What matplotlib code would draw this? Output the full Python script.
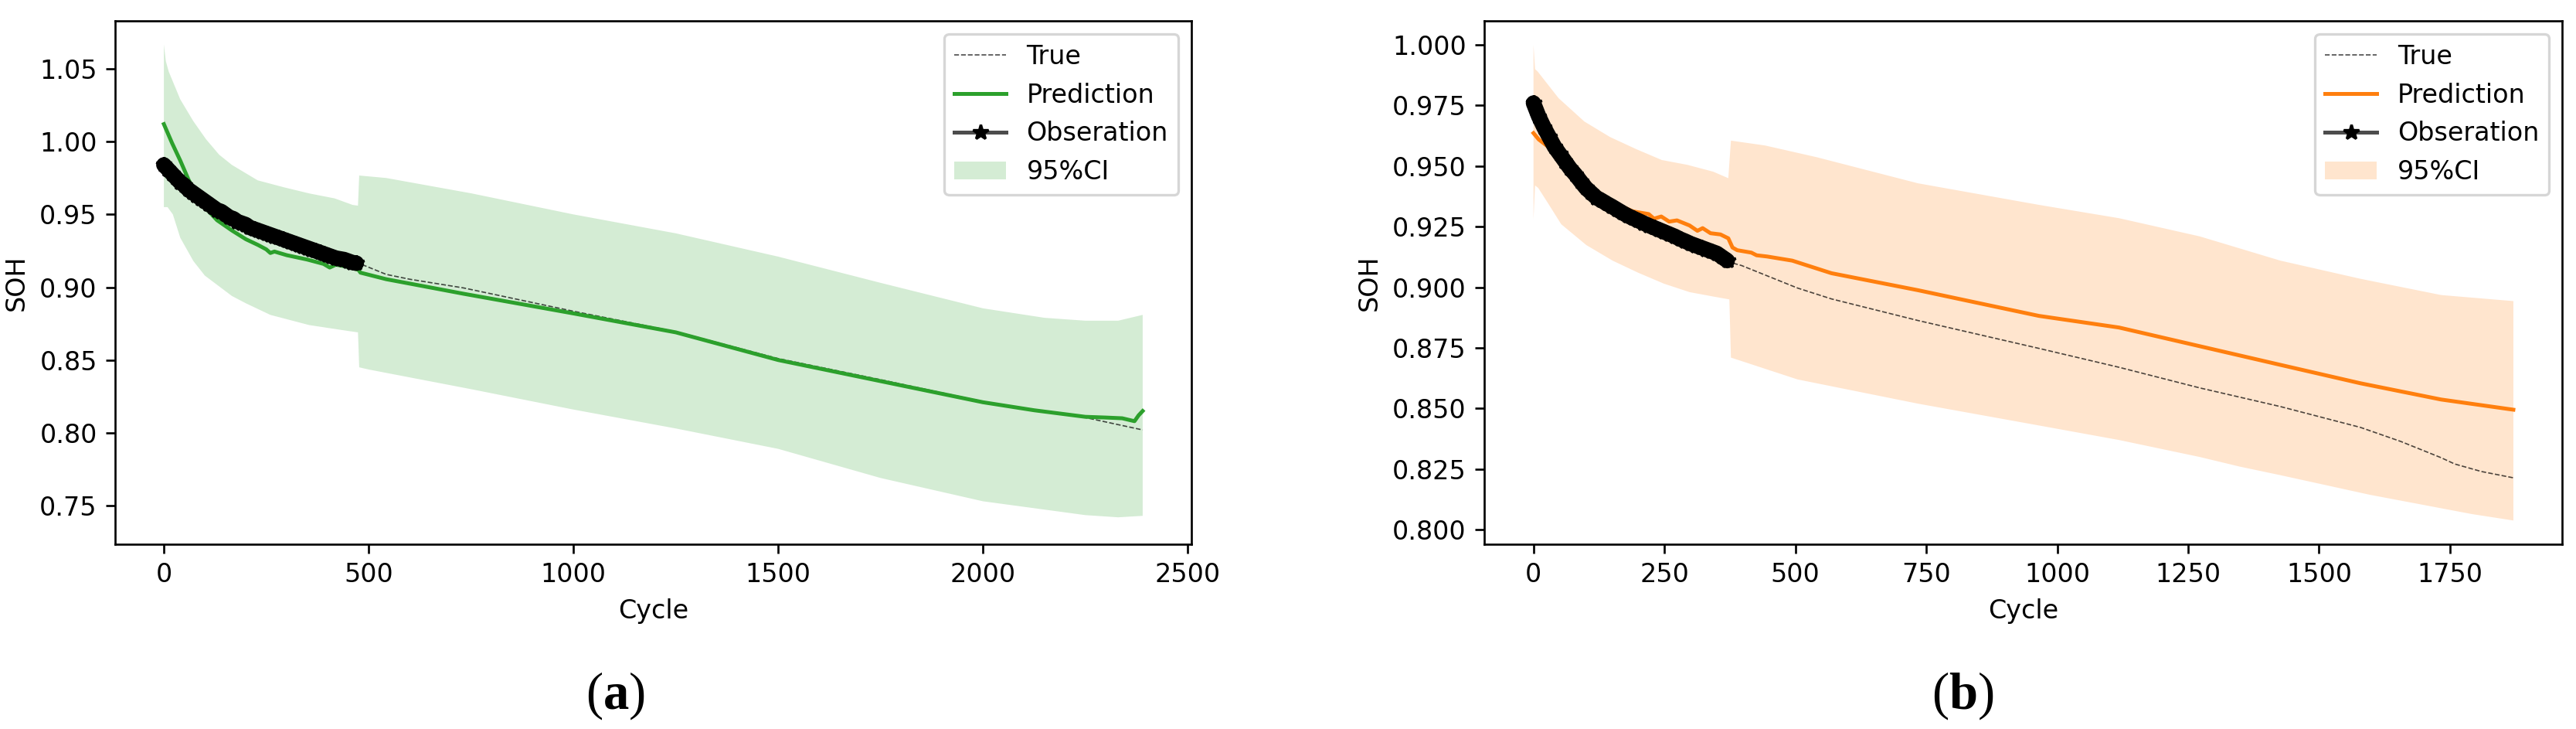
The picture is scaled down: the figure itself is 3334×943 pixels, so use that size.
import matplotlib
matplotlib.use('Agg')
import matplotlib.pyplot as plt
import numpy as np

plt.rcParams['mathtext.fontset'] = 'custom'
plt.rcParams['mathtext.rm'] = 'Liberation Serif'
plt.rcParams['mathtext.bf'] = 'Liberation Serif:bold'

# ---------------- panel (a) ----------------
obs_cyc_a = list(range(0, 471, 10))
obs_a = [0.984, 0.981, 0.978, 0.975, 0.972, 0.970, 0.967, 0.965, 0.963, 0.961,
         0.959, 0.957, 0.955, 0.953, 0.952, 0.950, 0.948, 0.947, 0.945, 0.944,
         0.943, 0.941, 0.940, 0.939, 0.938, 0.937, 0.936, 0.935, 0.934, 0.933,
         0.932, 0.931, 0.930, 0.929, 0.928, 0.927, 0.926, 0.925, 0.924, 0.923,
         0.922, 0.921, 0.920, 0.9195, 0.919, 0.918, 0.917, 0.9165]

true_cyc_a = [0, 50, 100, 150, 200, 250, 300, 350, 400, 450, 480, 543, 600, 732,
              1000, 1250, 1500, 1750, 2000, 2250, 2390]
true_a = [0.984, 0.970, 0.959, 0.950, 0.943, 0.937, 0.932, 0.927, 0.922, 0.918,
          0.916, 0.9088, 0.9055, 0.8995, 0.8835, 0.8695, 0.851, 0.8365, 0.8215,
          0.8105, 0.802]

pred_cyc_a = [0, 20, 40, 60, 80, 100, 130, 166, 200, 230, 250, 260, 270, 300, 350,
              390, 405, 420, 449, 475, 480, 543, 600, 732, 1000, 1250, 1500, 1750,
              2000, 2125, 2250, 2300, 2340, 2370, 2380, 2390]
pred_a = [1.012, 0.999, 0.987, 0.974, 0.963, 0.955, 0.946, 0.939, 0.933, 0.929,
          0.926, 0.9235, 0.9245, 0.922, 0.919, 0.916, 0.9135, 0.9155, 0.914, 0.912,
          0.910, 0.9055, 0.9025, 0.8955, 0.882, 0.869, 0.850, 0.8355, 0.821,
          0.8155, 0.811, 0.8105, 0.810, 0.808, 0.812, 0.815]

up_cyc_a = [0, 5, 12, 40, 72, 103, 135, 166, 229, 292, 355, 417, 461, 474, 477,
            543, 750, 1000, 1250, 1500, 1750, 2000, 2150, 2250, 2330, 2390]
up_a = [1.0666, 1.055, 1.048, 1.029, 1.014, 1.0016, 0.991, 0.984, 0.9734, 0.9687,
        0.9644, 0.961, 0.9565, 0.956, 0.9767, 0.975, 0.9645, 0.950, 0.937, 0.921,
        0.903, 0.8855, 0.879, 0.877, 0.877, 0.881]

lo_cyc_a = [0, 9, 22, 40, 72, 100, 166, 200, 260, 355, 449, 474, 477, 500, 750,
            1000, 1250, 1500, 1750, 2000, 2250, 2330, 2390]
lo_a = [0.955, 0.955, 0.950, 0.934, 0.918, 0.908, 0.894, 0.889, 0.881, 0.874,
        0.870, 0.869, 0.845, 0.8435, 0.830, 0.816, 0.803, 0.789, 0.769, 0.753,
        0.7435, 0.742, 0.743]

# ---------------- panel (b) ----------------
obs_cyc_b = list(range(0, 371, 10))
obs_b = [0.976, 0.9705, 0.966, 0.962, 0.958, 0.955, 0.952, 0.949, 0.9465, 0.9437,
         0.941, 0.939, 0.937, 0.9358, 0.9345, 0.9333, 0.932, 0.9307, 0.9295,
         0.9285, 0.9275, 0.9265, 0.9255, 0.9246, 0.9237, 0.9228, 0.9219, 0.921,
         0.9199, 0.919, 0.918, 0.9172, 0.9164, 0.9156, 0.9148, 0.914, 0.9125, 0.911]

true_cyc_b = [0, 50, 100, 150, 200, 250, 300, 350, 380, 397, 504, 569, 734, 965,
              1118, 1272, 1426, 1579, 1656, 1733, 1759, 1810, 1871]
true_b = [0.976, 0.955, 0.941, 0.9333, 0.9275, 0.9228, 0.918, 0.914, 0.910,
          0.909, 0.8997, 0.8952, 0.8863, 0.8748, 0.867, 0.8585, 0.8508, 0.8422,
          0.8364, 0.8297, 0.8271, 0.824, 0.8214]

pred_cyc_b = [0, 10, 28, 50, 100, 151, 190, 220, 230, 244, 259, 274, 298, 313,
              323, 338, 357, 372, 380, 389, 416, 426, 446, 494, 569, 734, 965,
              1118, 1272, 1426, 1579, 1733, 1871]
pred_b = [0.9636, 0.961, 0.958, 0.953, 0.943, 0.935, 0.9313, 0.9302, 0.9283,
          0.9292, 0.9271, 0.9276, 0.9255, 0.9233, 0.9244, 0.9223, 0.9218, 0.9202,
          0.9164, 0.9153, 0.9143, 0.9132, 0.9127, 0.911, 0.9058, 0.8988, 0.8882,
          0.8834, 0.8757, 0.868, 0.8604, 0.8537, 0.8495]

up_cyc_b = [0, 3, 8, 48, 97, 146, 196, 245, 294, 343, 372, 377, 442, 540, 734,
            965, 1118, 1272, 1426, 1579, 1733, 1871]
up_b = [1.000, 0.990, 0.989, 0.978, 0.9684, 0.962, 0.957, 0.9525, 0.9505, 0.9477,
        0.945, 0.9605, 0.9585, 0.9537, 0.9429, 0.934, 0.9285, 0.921, 0.911,
        0.9035, 0.8968, 0.8943]

lo_cyc_b = [0, 3, 9, 28, 53, 101, 151, 200, 249, 298, 348, 374, 377, 504, 734,
            965, 1118, 1272, 1349, 1426, 1597, 1793, 1871]
lo_b = [0.928, 0.942, 0.941, 0.9346, 0.926, 0.9174, 0.911, 0.906, 0.9015, 0.898,
        0.896, 0.895, 0.871, 0.862, 0.852, 0.843, 0.837, 0.830, 0.826, 0.8225,
        0.8144, 0.8064, 0.8038]

W, H, DPI = 3334, 943, 240
fig = plt.figure(figsize=(W / DPI, H / DPI), dpi=DPI)

def panel(rect, oc, ov, tc, tv, pc, pv, uc, uv, lc, lv, color, xlim, ylim, xticks, yticks, yfmt):
    ax = fig.add_axes(rect)
    ax.plot(tc, tv, '--', color='k', alpha=0.7, lw=0.5, label='True')
    ax.plot(pc, pv, '-', color=color, lw=1.5, label='Prediction')
    # dense star markers merge into a solid black band
    ax.plot(oc, ov, '-', color='k', lw=6.0, solid_capstyle='round',
            solid_joinstyle='round')
    ax.plot(oc, ov, '-*', color=(0, 0, 0, 0.7), mfc='k', mec='k', ms=6,
            label='Obseration')
    ax.fill(np.concatenate([uc, lc[::-1]]), np.concatenate([uv, lv[::-1]]),
            color=color, alpha=0.2, lw=0, label='95%CI')
    ax.set_xlim(*xlim)
    ax.set_ylim(*ylim)
    ax.set_xticks(xticks)
    ax.set_yticks(yticks)
    ax.set_yticklabels([yfmt.format(t) for t in yticks])
    ax.set_xlabel('Cycle')
    ax.set_ylabel('SOH')
    ax.legend(loc='upper right')
    return ax

panel([149 / W, 1 - 704 / H, 1393 / W, 677 / H],
      obs_cyc_a, obs_a, true_cyc_a, true_a, pred_cyc_a, pred_a,
      np.array(up_cyc_a), np.array(up_a), np.array(lo_cyc_a), np.array(lo_a),
      'tab:green', (-119, 2509), (0.7235, 1.0829),
      [0, 500, 1000, 1500, 2000, 2500],
      [0.75, 0.80, 0.85, 0.90, 0.95, 1.00, 1.05], '{:.2f}')

panel([1921 / W, 1 - 704 / H, 1395 / W, 677 / H],
      obs_cyc_b, obs_b, true_cyc_b, true_b, pred_cyc_b, pred_b,
      np.array(up_cyc_b), np.array(up_b), np.array(lo_cyc_b), np.array(lo_b),
      'tab:orange', (-94, 1964), (0.794, 1.0099),
      [0, 250, 500, 750, 1000, 1250, 1500, 1750],
      [0.800, 0.825, 0.850, 0.875, 0.900, 0.925, 0.950, 0.975, 1.000], '{:.3f}')

fig.text(796 / W, 1 - 900 / H, r'($\mathbf{a}$)', ha='center', va='center',
         fontsize=20, family='Liberation Serif')
fig.text(2540 / W, 1 - 900 / H, r'($\mathbf{b}$)', ha='center', va='center',
         fontsize=20, family='Liberation Serif')

fig.savefig('out.png', dpi=DPI)
